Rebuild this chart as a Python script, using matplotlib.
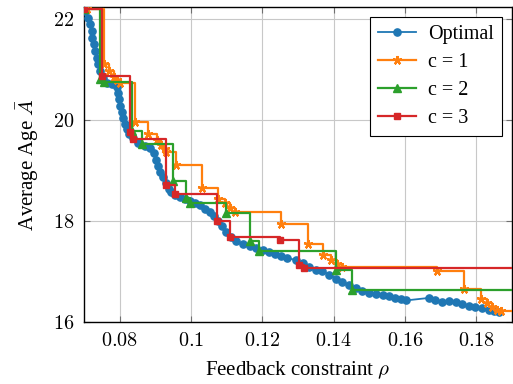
import matplotlib.pyplot as plt
from matplotlib.ticker import FuncFormatter

plt.rcParams['font.family'] = ['Liberation Serif', 'DejaVu Serif']
plt.rcParams['mathtext.fontset'] = 'cm'

# optimal curve
opt_x = [0.0702, 0.0711, 0.0716, 0.0721, 0.0723, 0.0727, 0.0730, 0.0735, 0.0739, 0.0744,
         0.0753, 0.0763, 0.0777, 0.0791, 0.0795, 0.0798, 0.0801, 0.0805, 0.0809, 0.0814,
         0.0819, 0.0826, 0.0836, 0.0851, 0.0870, 0.0884, 0.0895, 0.0901, 0.0906, 0.0913,
         0.0921, 0.0929, 0.0937, 0.0945, 0.0954, 0.0968, 0.0982, 0.0996, 0.1010, 0.1024,
         0.1038, 0.1052, 0.1063, 0.1075, 0.1088, 0.1099, 0.1112, 0.1126, 0.1145, 0.1164,
         0.1183, 0.1201, 0.1219, 0.1236, 0.1253, 0.1270, 0.1294, 0.1313, 0.1331, 0.1350,
         0.1368, 0.1387, 0.1407, 0.1424, 0.1443, 0.1463, 0.1480, 0.1499, 0.1519, 0.1538,
         0.1555, 0.1572, 0.1589, 0.1602, 0.1667, 0.1684, 0.1703, 0.1723, 0.1743, 0.1760,
         0.1779, 0.1796, 0.1816, 0.1835, 0.1849, 0.1863]
opt_y = [22.16, 22.03, 21.90, 21.77, 21.63, 21.50, 21.37, 21.24, 21.11, 20.97,
         20.84, 20.74, 20.71, 20.66, 20.54, 20.41, 20.29, 20.17, 20.05, 19.93,
         19.82, 19.72, 19.64, 19.55, 19.49, 19.44, 19.34, 19.22, 19.10, 18.98,
         18.88, 18.76, 18.64, 18.57, 18.52, 18.47, 18.43, 18.40, 18.36, 18.33,
         18.25, 18.19, 18.11, 18.00, 17.90, 17.79, 17.69, 17.61, 17.54, 17.51,
         17.47, 17.43, 17.38, 17.35, 17.31, 17.27, 17.23, 17.17, 17.10, 17.04,
         17.01, 16.94, 16.86, 16.80, 16.73, 16.67, 16.61, 16.58, 16.55, 16.53,
         16.51, 16.47, 16.45, 16.43, 16.48, 16.44, 16.40, 16.41, 16.39, 16.36,
         16.33, 16.30, 16.28, 16.25, 16.23, 16.21]

# c = 1
c1_x = [0.0708, 0.0757, 0.0770, 0.0783, 0.0791, 0.0800, 0.0842, 0.0879, 0.0903, 0.0916,
        0.0926, 0.0931, 0.0958, 0.1031, 0.1075, 0.1094, 0.1108, 0.1122, 0.1252, 0.1327,
        0.1370, 0.1393, 0.1410, 0.1424, 0.1690, 0.1765, 0.1812, 0.1829, 0.1844, 0.1858,
        0.1868, 0.2000]
c1_y = [22.20, 21.12, 20.97, 20.85, 20.79, 20.73, 19.97, 19.72, 19.60, 19.50,
        19.42, 19.36, 19.12, 18.66, 18.43, 18.35, 18.26, 18.19, 17.95, 17.55,
        17.33, 17.23, 17.15, 17.09, 17.02, 16.65, 16.46, 16.37, 16.30, 16.25,
        16.22, 16.22]

# c = 2
c2_x = [0.0701, 0.0745, 0.0755, 0.0833, 0.0861, 0.0949, 0.0986, 0.0998, 0.1098, 0.1164,
        0.1191, 0.1406, 0.1452, 0.2000]
c2_y = [22.20, 20.81, 20.75, 19.78, 19.52, 18.79, 18.45, 18.35, 18.16, 17.60,
        17.40, 17.03, 16.64, 16.64]

# c = 3
c3_x = [0.0701, 0.0750, 0.0828, 0.0838, 0.0931, 0.0954, 0.1074, 0.1108, 0.1250, 0.1303,
        0.1316, 0.2000]
c3_y = [22.20, 20.88, 19.76, 19.62, 18.72, 18.53, 18.00, 17.69, 17.63, 17.13,
        17.08, 17.08]

fig = plt.figure(figsize=(5.13, 3.84), dpi=100)
ax = fig.add_axes([0.164, 0.161, 0.834, 0.822])

ax.plot(opt_x, opt_y, color='#1f77b4', lw=1.3, marker='o', ms=5.2, label='Optimal', zorder=3)
ax.plot(c1_x, c1_y, color='#ff7f0e', lw=1.6, marker=(5, 2, 0), ms=6.5, mew=1.6,
        drawstyle='steps-post', label='c = 1', zorder=4)
ax.plot(c2_x, c2_y, color='#2ca02c', lw=1.6, marker='^', ms=6,
        drawstyle='steps-post', label='c = 2', zorder=5)
ax.plot(c3_x, c3_y, color='#d62728', lw=1.6, marker='s', ms=5,
        drawstyle='steps-post', label='c = 3', zorder=6)

ax.set_xlim(0.07, 0.19)
ax.set_ylim(16, 22.25)
ax.set_xticks([0.08, 0.1, 0.12, 0.14, 0.16, 0.18])
ax.set_yticks([16, 18, 20, 22])
ax.xaxis.set_major_formatter(FuncFormatter(lambda v, p: '$%g$' % round(v, 2)))
ax.yaxis.set_major_formatter(FuncFormatter(lambda v, p: '$%d$' % v))
ax.tick_params(direction='in', length=4, color='#707070', labelsize=14.5,
               top=True, right=True, pad=7)
ax.grid(True, color='#c8c8c8', lw=0.8)
ax.set_axisbelow(True)
for s in ax.spines.values():
    s.set_linewidth(1.0)

ax.set_xlabel(r'Feedback constraint $\rho$', fontsize=15, labelpad=6)
ax.set_ylabel(r'Average Age $\bar{A}$', fontsize=15, labelpad=9)

leg = ax.legend(loc='upper right', fontsize=14.5, fancybox=False, framealpha=1,
                edgecolor='black', handlelength=1.9, handletextpad=0.6,
                borderaxespad=0.5, labelspacing=0.45)
leg.get_frame().set_linewidth(0.8)

fig.savefig('out.png', dpi=100)
